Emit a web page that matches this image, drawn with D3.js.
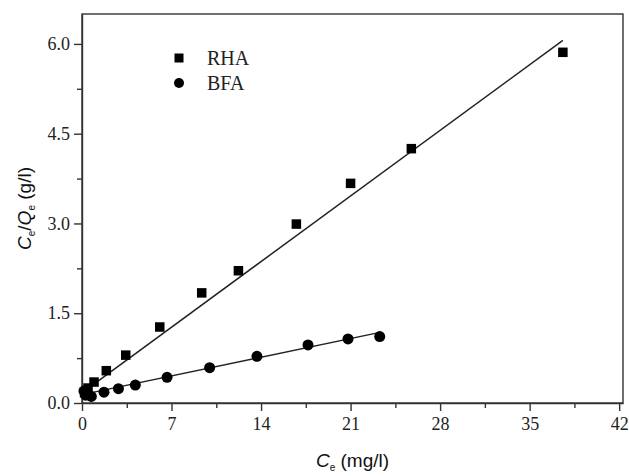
<!DOCTYPE html>
<html lang="en">
<head>
<meta charset="UTF-8">
<title>Ce/Qe vs Ce</title>
<style>
  body { margin: 0; background: #fff; }
  .tick text { font-family: "Liberation Serif", "Times New Roman", Times, serif; font-size: 18px; fill: #222; }
  .domain, .tick line { stroke: #333; stroke-width: 1.4px; }
  .legend text { font-family: "Liberation Serif", "Times New Roman", Times, serif; font-size: 20px; fill: #222; }
  .axis-label { font-family: "Liberation Sans", Arial, Helvetica, sans-serif; font-size: 19px; fill: #111; }
</style>
</head>
<body>
<svg></svg>
<script src="https://d3js.org/d3.v7.min.js"></script>
<script>
// data
const rhaX = [0.2, 0.47, 0.94, 1.9, 3.42, 6.08, 9.36, 12.23, 16.76, 21.0, 25.75, 37.6];
const rhaY = [0.17, 0.25, 0.35, 0.54, 0.80, 1.27, 1.84, 2.21, 2.99, 3.67, 4.25, 5.86];
const bfaX = [0.15, 0.29, 0.45, 0.73, 1.72, 2.85, 4.17, 6.65, 9.98, 13.68, 17.67, 20.8, 23.28];
const bfaY = [0.20, 0.13, 0.15, 0.11, 0.18, 0.24, 0.30, 0.43, 0.59, 0.78, 0.97, 1.07, 1.11];
// linear fit end points
const rhaFitX = [0, 37.6];
const rhaFitY = [0.17, 6.06];
const bfaFitX = [0, 23.3];
const bfaFitY = [0.14, 1.18];
const xTicks = [0, 7, 14, 21, 28, 35, 42];
const yTicks = [0, 1.5, 3.0, 4.5, 6.0];

const width = 629, height = 476;
const margin = {top: 14, right: 6, bottom: 73, left: 82};

const svg = d3.select("svg").attr("width", width).attr("height", height);

const x = d3.scaleLinear().domain([0, 42.3]).range([margin.left, width - margin.right]);
const y = d3.scaleLinear().domain([0, 6.5]).range([height - margin.bottom, margin.top]);

// minor ticks
const xMinor = d3.range(3.5, 42, 7);
const yMinor = d3.range(0.75, 6.5, 1.5);

svg.append("g")
    .attr("transform", `translate(0,${y(0)})`)
    .call(d3.axisBottom(x).tickValues(xMinor).tickSize(5).tickFormat(""))
    .select(".domain").remove();
svg.append("g")
    .attr("transform", `translate(${x(0)},0)`)
    .call(d3.axisLeft(y).tickValues(yMinor).tickSize(5).tickFormat(""))
    .select(".domain").remove();

const xAxis = svg.append("g")
    .attr("transform", `translate(0,${y(0)})`)
    .call(d3.axisBottom(x).tickValues(xTicks).tickSize(8).tickSizeOuter(0).tickPadding(6).tickFormat(d3.format("d")));
const yAxis = svg.append("g")
    .attr("transform", `translate(${x(0)},0)`)
    .call(d3.axisLeft(y).tickValues(yTicks).tickSize(8).tickSizeOuter(0).tickPadding(4).tickFormat(d3.format(".1f")));
xAxis.attr("font-family", null).attr("font-size", null);
yAxis.attr("font-family", null).attr("font-size", null);

// frame
svg.append("rect")
    .attr("x", x(0)).attr("y", y(6.5))
    .attr("width", x(42.3) - x(0)).attr("height", y(0) - y(6.5))
    .attr("fill", "none").attr("stroke", "#333").attr("stroke-width", 1.4);

// fit lines
const line = d3.line().x(d => x(d[0])).y(d => y(d[1]));
svg.append("path").datum(d3.zip(rhaFitX, rhaFitY))
    .attr("d", line).attr("fill", "none").attr("stroke", "#222").attr("stroke-width", 1.5);
svg.append("path").datum(d3.zip(bfaFitX, bfaFitY))
    .attr("d", line).attr("fill", "none").attr("stroke", "#222").attr("stroke-width", 1.5);

// markers
const sq = 9.5;
svg.append("g").selectAll("rect")
    .data(d3.zip(rhaX, rhaY))
    .join("rect")
    .attr("x", d => x(d[0]) - sq / 2)
    .attr("y", d => y(d[1]) - sq / 2)
    .attr("width", sq).attr("height", sq)
    .attr("fill", "#000");

svg.append("g").selectAll("circle")
    .data(d3.zip(bfaX, bfaY))
    .join("circle")
    .attr("cx", d => x(d[0]))
    .attr("cy", d => y(d[1]))
    .attr("r", 5.5)
    .attr("fill", "#000");

// legend
const legend = svg.append("g").attr("class", "legend");
legend.append("rect").attr("x", 179 - 4.5).attr("y", 58 - 4.5).attr("width", 9).attr("height", 9).attr("fill", "#000");
legend.append("text").attr("x", 207).attr("y", 65).text("RHA");
legend.append("circle").attr("cx", 179).attr("cy", 83).attr("r", 5).attr("fill", "#000");
legend.append("text").attr("x", 207).attr("y", 90).text("BFA");

// axis labels
const xl = svg.append("text").attr("class", "axis-label")
    .attr("x", (x(0) + x(42.3)) / 2).attr("y", 467).attr("text-anchor", "middle");
xl.append("tspan").attr("font-style", "italic").text("C");
xl.append("tspan").attr("font-size", "10px").attr("dy", 4).text("e");
xl.append("tspan").attr("dy", -4).text(" (mg/l)");

const yl = svg.append("text").attr("class", "axis-label")
    .attr("transform", `translate(31,${(y(0) + y(6.5)) / 2}) rotate(-90)`)
    .attr("text-anchor", "middle");
yl.append("tspan").attr("font-style", "italic").text("C");
yl.append("tspan").attr("font-size", "10px").attr("dy", 4).text("e");
yl.append("tspan").attr("dy", -4).text("/");
yl.append("tspan").attr("font-style", "italic").text("Q");
yl.append("tspan").attr("font-size", "10px").attr("dy", 4).text("e");
yl.append("tspan").attr("dy", -4).text(" (g/l)");
</script>
</body>
</html>
